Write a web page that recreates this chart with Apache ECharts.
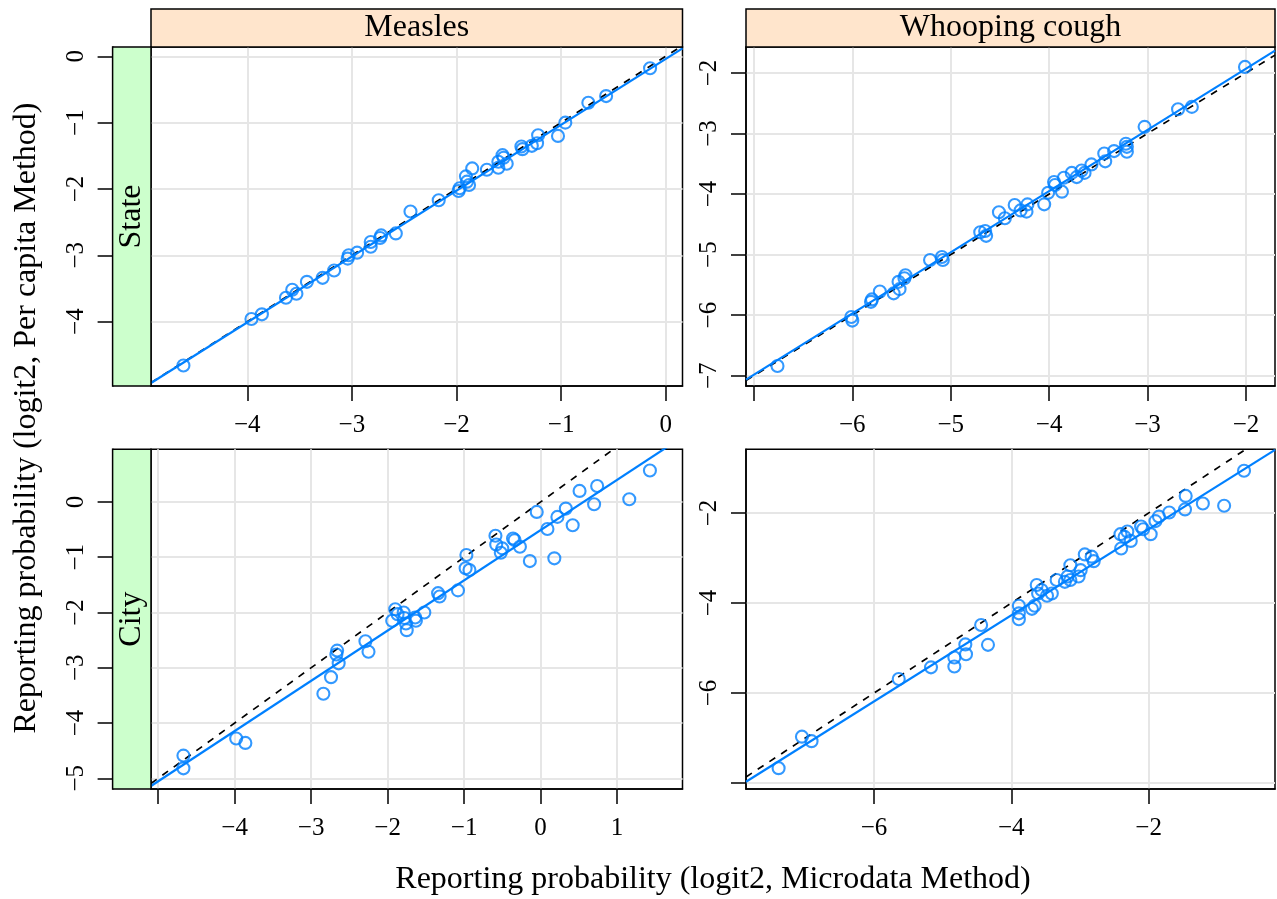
<!DOCTYPE html>
<html>
<head>
<meta charset="utf-8">
<title>Reporting probability</title>
<script src="https://cdn.jsdelivr.net/npm/echarts@6/dist/echarts.min.js"></script>
<style>
  html, body { margin: 0; padding: 0; background: #fff; }
  #chart { width: 1277px; height: 899px; }
</style>
</head>
<body>
<div id="chart"></div>
<script>
// 面板: 列 = 疾病, 行 = 地区
const diseases = ['Measles', 'Whooping cough']
const regions = ['State', 'City']

// 每个点: [Microdata Method, Per capita Method] (logit2)
const measlesState = [
  [-4.61, -4.66], [-3.96, -3.96], [-3.86, -3.89], [-3.63, -3.64], [-3.57, -3.52],
  [-3.53, -3.58], [-3.43, -3.40], [-3.28, -3.34], [-3.17, -3.23], [-3.04, -3.05],
  [-3.03, -3.00], [-2.95, -2.96], [-2.82, -2.87], [-2.82, -2.80], [-2.73, -2.74],
  [-2.72, -2.70], [-2.58, -2.67], [-2.44, -2.34], [-2.17, -2.17], [-1.98, -2.03],
  [-1.97, -1.99], [-1.90, -1.89], [-1.88, -1.94], [-1.91, -1.81], [-1.85, -1.69],
  [-1.71, -1.71], [-1.60, -1.68], [-1.60, -1.59], [-1.56, -1.49], [-1.55, -1.53],
  [-1.52, -1.62], [-1.38, -1.36], [-1.37, -1.40], [-1.28, -1.35], [-1.23, -1.31],
  [-1.22, -1.19], [-1.03, -1.20], [-0.96, -1.00], [-0.74, -0.70], [-0.57, -0.60],
  [-0.15, -0.18]
]
const whoopingState = [
  [-6.76, -6.84], [-6.01, -6.03], [-6.00, -6.09], [-5.81, -5.78], [-5.80, -5.74],
  [-5.72, -5.61], [-5.58, -5.64], [-5.53, -5.45], [-5.52, -5.57], [-5.47, -5.39],
  [-5.46, -5.34], [-5.21, -5.09], [-5.09, -5.04], [-5.08, -5.09], [-4.70, -4.63],
  [-4.65, -4.61], [-4.64, -4.69], [-4.51, -4.30], [-4.45, -4.40], [-4.35, -4.18],
  [-4.29, -4.27], [-4.23, -4.29], [-4.22, -4.17], [-4.05, -4.17], [-4.01, -3.98],
  [-3.95, -3.80], [-3.94, -3.85], [-3.87, -3.96], [-3.85, -3.73], [-3.77, -3.65],
  [-3.72, -3.72], [-3.67, -3.61], [-3.64, -3.65], [-3.57, -3.51], [-3.44, -3.33],
  [-3.43, -3.46], [-3.34, -3.29], [-3.22, -3.17], [-3.21, -3.22], [-3.21, -3.30],
  [-3.03, -2.89], [-2.69, -2.60], [-2.55, -2.56], [-2.01, -1.90]
]
const measlesCity = [
  [-4.67, -4.59], [-4.67, -4.82], [-3.98, -4.28], [-3.86, -4.36], [-2.84, -3.47],
  [-2.74, -3.17], [-2.66, -2.69], [-2.67, -2.76], [-2.64, -2.92], [-2.29, -2.52],
  [-2.25, -2.71], [-1.94, -2.15], [-1.90, -1.94], [-1.87, -2.03], [-1.79, -2.00],
  [-1.78, -2.10], [-1.76, -2.20], [-1.75, -2.32], [-1.64, -2.09], [-1.63, -2.15],
  [-1.52, -2.00], [-1.34, -1.65], [-1.32, -1.71], [-1.08, -1.60], [-0.97, -0.96],
  [-0.98, -1.20], [-0.93, -1.23], [-0.59, -0.61], [-0.58, -0.77], [-0.52, -0.92],
  [-0.50, -0.84], [-0.36, -0.66], [-0.34, -0.69], [-0.27, -0.81], [-0.14, -1.07],
  [-0.05, -0.18], [0.09, -0.49], [0.18, -1.02], [0.22, -0.27], [0.33, -0.12],
  [0.42, -0.42], [0.51, 0.20], [0.70, -0.04], [0.74, 0.29], [1.16, 0.05],
  [1.43, 0.57]
]
const whoopingCity = [
  [-7.39, -7.67], [-7.05, -6.97], [-6.91, -7.07], [-5.64, -5.69], [-5.17, -5.43],
  [-4.83, -5.21], [-4.83, -5.41], [-4.67, -4.92], [-4.66, -5.14], [-4.44, -4.49],
  [-4.34, -4.93], [-3.89, -4.06], [-3.89, -4.23], [-3.89, -4.36], [-3.70, -4.13],
  [-3.66, -4.06], [-3.63, -3.60], [-3.61, -3.79], [-3.56, -3.71], [-3.48, -3.84],
  [-3.41, -3.79], [-3.34, -3.49], [-3.22, -3.53], [-3.18, -3.41], [-3.14, -3.49],
  [-3.14, -3.16], [-3.02, -3.41], [-2.99, -3.27], [-2.93, -2.92], [-2.83, -2.97],
  [-2.80, -3.07], [-2.41, -2.47], [-2.40, -2.79], [-2.35, -2.53], [-2.31, -2.41],
  [-2.26, -2.62], [-2.11, -2.30], [-2.08, -2.36], [-1.97, -2.47], [-1.90, -2.18],
  [-1.85, -2.08], [-1.70, -1.99], [-1.47, -1.92], [-1.46, -1.62], [-1.21, -1.79],
  [-0.90, -1.84], [-0.61, -1.06]
]

// 回归线 [截距, 斜率]
const measlesStateFit = [-0.04, 0.993]
const whoopingStateFit = [0.093, 1.011]
const measlesCityFit = [-0.51, 0.909]
const whoopingCityFit = [-0.444, 0.957]

// 坐标轴范围
const xRanges = [[-4.92, 0.16], [-7.08, -1.705], [-5.094, 1.856], [-7.865, -0.159]]
const yRanges = [[-4.97, 0.14], [-7.17, -1.571], [-5.194, 0.953], [-8.133, -0.584]]

// 刻度和刻度标签
const xTicks = [[-4, -3, -2, -1, 0], [-7, -6, -5, -4, -3, -2], [-5, -4, -3, -2, -1, 0, 1], [-6, -4, -2]]
const xTickLabels = [[-4, -3, -2, -1, 0], [-6, -5, -4, -3, -2], [-4, -3, -2, -1, 0, 1], [-6, -4, -2]]
const yTicks = [[-4, -3, -2, -1, 0], [-7, -6, -5, -4, -3, -2], [-5, -4, -3, -2, -1, 0], [-8, -6, -4, -2]]
const yTickLabels = [[-4, -3, -2, -1, 0], [-7, -6, -5, -4, -3, -2], [-5, -4, -3, -2, -1, 0], [-6, -4, -2]]

const xTitle = 'Reporting probability (logit2, Microdata Method)'
const yTitle = 'Reporting probability (logit2, Per capita Method)'

const panels = [measlesState, whoopingState, measlesCity, whoopingCity]
const fits = [measlesStateFit, whoopingStateFit, measlesCityFit, whoopingCityFit]

const font = "'Liberation Serif', 'Times New Roman', serif"
const blue = '#0080ff'
const fmt = v => String(v).replace('-', '\u2212')

const grids = [
  { left: 151, top: 47, width: 531.5, height: 339 },
  { left: 746, top: 47, width: 529, height: 339 },
  { left: 151, top: 449.3, width: 531.5, height: 339.7 },
  { left: 746, top: 449.3, width: 529, height: 339.7 }
].map(g => Object.assign(g, {
  show: true, borderColor: '#000', borderWidth: 1.5, backgroundColor: '#fff',
  containLabel: false, outerBoundsMode: 'none'
}))

const axisCommon = i => ({
  type: 'value',
  gridIndex: i,
  axisLine: { show: true, onZero: false, lineStyle: { color: '#000', width: 1.5 } },
  splitLine: { show: true, lineStyle: { color: '#e6e6e6', width: 2 } }
})

const xAxes = panels.map((d, i) => Object.assign(axisCommon(i), {
  position: 'bottom',
  min: xRanges[i][0],
  max: xRanges[i][1],
  axisTick: { show: true, length: 15, customValues: xTicks[i], lineStyle: { color: '#000', width: 1.5 } },
  axisLabel: { customValues: xTickLabels[i], margin: 27, fontSize: 25, fontFamily: font, color: '#000', formatter: fmt }
}))

const yAxes = panels.map((d, i) => Object.assign(axisCommon(i), {
  position: 'left',
  offset: i % 2 === 0 ? 38.4 : 0,
  min: yRanges[i][0],
  max: yRanges[i][1],
  axisTick: { show: true, length: 15, customValues: yTicks[i], lineStyle: { color: '#000', width: 1.5 } },
  axisLabel: { customValues: yTickLabels[i], rotate: 90, margin: 24, fontSize: 25, fontFamily: font, color: '#000', formatter: fmt }
}))

const series = []
panels.forEach((d, i) => {
  const x0 = xRanges[i][0]
  const x1 = xRanges[i][1]
  const a = fits[i][0]
  const b = fits[i][1]
  // y = x 虚线
  series.push({
    type: 'line', xAxisIndex: i, yAxisIndex: i, z: 2, clip: true,
    showSymbol: false, silent: true,
    data: [[x0, x0], [x1, x1]],
    lineStyle: { color: '#000', width: 1.7, type: [7, 7] }
  })
  // 散点
  series.push({
    type: 'scatter', xAxisIndex: i, yAxisIndex: i, z: 3,
    symbol: 'circle', symbolSize: 12,
    itemStyle: { color: 'rgba(0,0,0,0)', borderColor: blue, borderWidth: 2.1 },
    data: d
  })
  // 回归线
  series.push({
    type: 'line', xAxisIndex: i, yAxisIndex: i, z: 4, clip: true,
    showSymbol: false, silent: true,
    data: [[x0, a + b * x0], [x1, a + b * x1]],
    lineStyle: { color: blue, width: 2.2 }
  })
})

// 条带 (strip)
const graphic = []
const topStrips = [{ x: 151, w: 531.5 }, { x: 746, w: 529 }]
diseases.forEach((name, i) => {
  graphic.push({
    type: 'rect', z: 10,
    shape: { x: topStrips[i].x, y: 9, width: topStrips[i].w, height: 38 },
    style: { fill: '#ffe5cc', stroke: '#000', lineWidth: 1.5 }
  })
  graphic.push({
    type: 'text', z: 11,
    x: topStrips[i].x + topStrips[i].w / 2, y: 28,
    style: { text: name, font: '32px ' + font, fill: '#000', align: 'center', verticalAlign: 'middle' }
  })
})
const leftStrips = [{ y: 47, h: 339 }, { y: 449.3, h: 339.7 }]
regions.forEach((name, i) => {
  graphic.push({
    type: 'rect', z: 10,
    shape: { x: 112.6, y: leftStrips[i].y, width: 38.4, height: leftStrips[i].h },
    style: { fill: '#ccffcc', stroke: '#000', lineWidth: 1.5 }
  })
  graphic.push({
    type: 'text', z: 11,
    x: 132, y: leftStrips[i].y + leftStrips[i].h / 2,
    rotation: Math.PI / 2,
    style: { text: name, font: '32px ' + font, fill: '#000', align: 'center', verticalAlign: 'middle' }
  })
})
graphic.push({
  type: 'text', x: 713, y: 880,
  style: { text: xTitle, font: '32px ' + font, fill: '#000', align: 'center', verticalAlign: 'middle' }
})
graphic.push({
  type: 'text', x: 27, y: 418, rotation: Math.PI / 2,
  style: { text: yTitle, font: '32px ' + font, fill: '#000', align: 'center', verticalAlign: 'middle' }
})

const chart = echarts.init(document.getElementById('chart'))
chart.setOption({
  backgroundColor: '#fff',
  animation: false,
  grid: grids,
  xAxis: xAxes,
  yAxis: yAxes,
  series: series,
  graphic: graphic
})
</script>
</body>
</html>
